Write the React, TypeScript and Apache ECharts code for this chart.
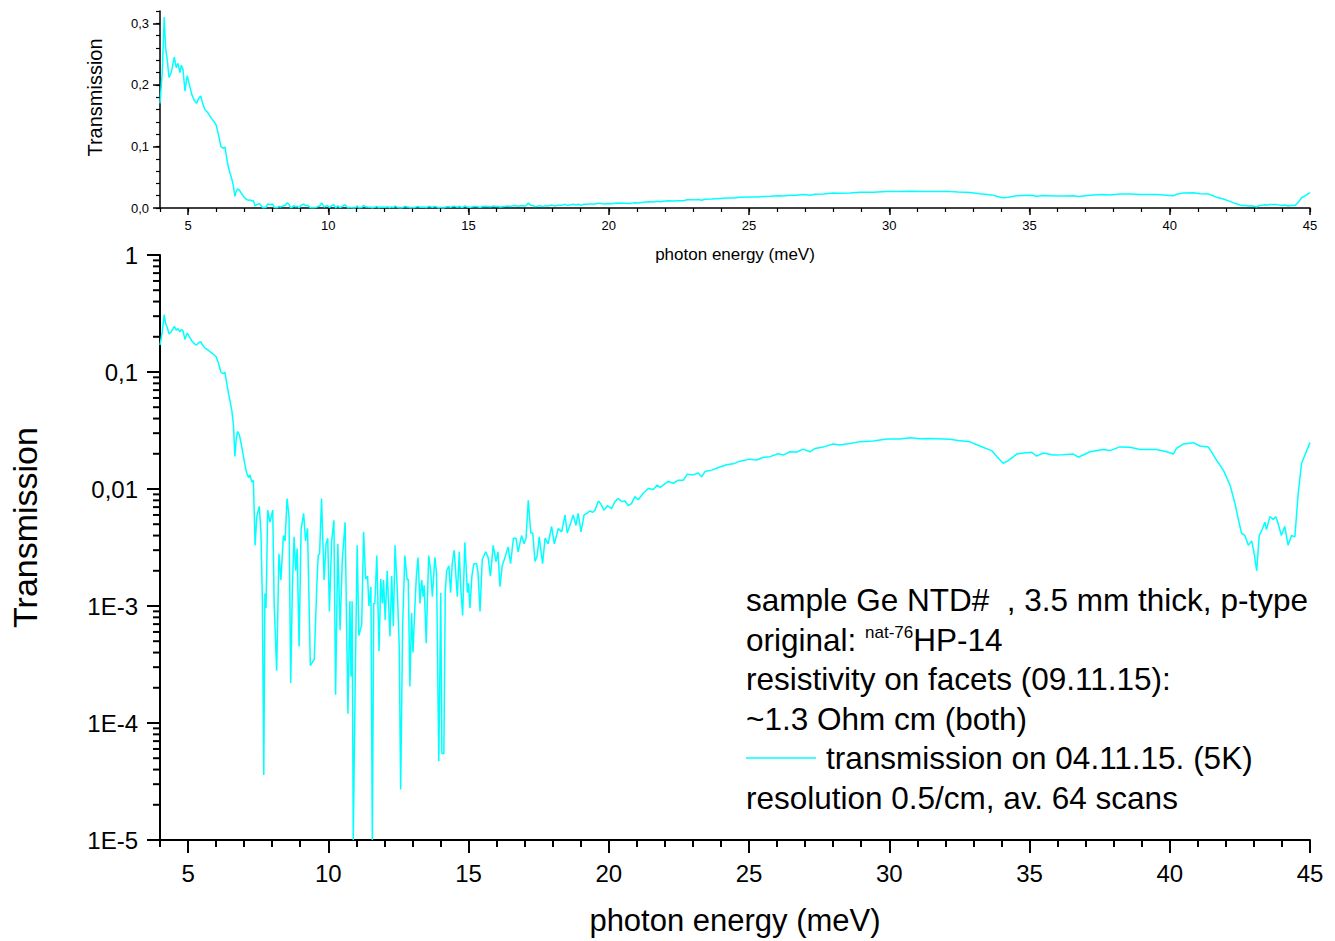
import React, { useEffect, useRef } from "react";
import * as echarts from "echarts";

// photon energy (meV), transmission
const spectrum: [number, number][] = [
  [4.0, 0.17], [4.08, 0.22], [4.15, 0.31], [4.2, 0.26], [4.26, 0.24], [4.32, 0.212], [4.4, 0.22], [4.51, 0.245],
  [4.58, 0.228], [4.64, 0.235], [4.71, 0.22], [4.76, 0.232], [4.82, 0.225], [4.89, 0.19], [4.97, 0.215], [5.05, 0.2],
  [5.13, 0.185], [5.22, 0.175], [5.3, 0.17], [5.38, 0.178], [5.45, 0.182], [5.52, 0.17], [5.6, 0.16], [5.7, 0.155],
  [5.8, 0.148], [5.9, 0.142], [6.0, 0.135], [6.08, 0.12], [6.17, 0.1], [6.25, 0.097], [6.32, 0.099], [6.38, 0.08],
  [6.44, 0.066], [6.5, 0.056], [6.56, 0.047], [6.62, 0.035], [6.67, 0.019], [6.72, 0.027], [6.77, 0.031], [6.83, 0.029],
  [6.9, 0.024], [6.96, 0.02], [7.03, 0.016], [7.1, 0.0135], [7.16, 0.0125], [7.21, 0.0132], [7.27, 0.0115], [7.33, 0.0118],
  [7.39, 0.0033], [7.45, 0.0058], [7.54, 0.0071], [7.6, 0.0042], [7.65, 0.00112], [7.7, 3.6e-5], [7.74, 0.00128],
  [7.78, 0.00096], [7.84, 0.0066], [7.92, 0.0052], [8.02, 0.0066], [8.07, 0.00105], [8.16, 0.00028], [8.24, 0.0028],
  [8.31, 0.00167], [8.4, 0.004], [8.46, 0.0036], [8.53, 0.0083], [8.6, 0.0058], [8.66, 0.00022], [8.72, 0.00146],
  [8.78, 0.0039], [8.84, 0.002], [8.89, 0.0031], [8.96, 0.00045], [9.03, 0.0045], [9.12, 0.0062], [9.19, 0.0036],
  [9.26, 0.0046], [9.36, 0.00031], [9.5, 0.00035], [9.59, 0.00146], [9.64, 0.0027], [9.69, 0.0028], [9.76, 0.0083],
  [9.85, 0.00167], [9.92, 0.0034], [9.98, 0.0038], [10.04, 0.0009], [10.12, 0.0036], [10.2, 0.0054], [10.26, 0.000174],
  [10.34, 0.0034], [10.42, 0.00062], [10.5, 0.0025], [10.6, 0.0052], [10.7, 0.00012], [10.77, 0.0011], [10.81, 0.00025],
  [10.85, 0.0011], [10.89, 1e-5], [10.96, 0.00023], [11.03, 0.0033], [11.09, 0.00056], [11.19, 0.00069], [11.26, 0.0043],
  [11.33, 0.0017], [11.4, 0.0018], [11.45, 0.001], [11.52, 0.00146], [11.57, 1e-5], [11.62, 0.00105], [11.66, 0.00105],
  [11.73, 0.0027], [11.81, 0.00041], [11.87, 0.0017], [11.93, 0.00105], [11.97, 0.00167], [12.03, 0.00076], [12.1, 0.002],
  [12.2, 0.00055], [12.26, 0.0018], [12.32, 0.00067], [12.38, 0.0033], [12.46, 0.00137], [12.53, 0.00045], [12.58, 2.7e-5],
  [12.65, 0.00067], [12.73, 0.0027], [12.81, 0.00167], [12.85, 0.0017], [12.91, 0.000205], [12.97, 0.00087], [13.02, 0.0004],
  [13.08, 0.0009], [13.14, 0.0018], [13.2, 0.0026], [13.27, 0.00105], [13.33, 0.00167], [13.38, 0.0012], [13.42, 0.0015],
  [13.49, 0.00048], [13.58, 0.0027], [13.65, 0.002], [13.71, 0.0012], [13.8, 0.0026], [13.86, 0.0019], [13.94, 4.7e-5],
  [14.01, 0.0013], [14.05, 5.5e-5], [14.12, 5.5e-5], [14.17, 0.0013], [14.22, 0.002], [14.3, 0.0022], [14.36, 0.0013],
  [14.42, 0.0023], [14.49, 0.003], [14.6, 0.0012], [14.67, 0.0029], [14.72, 0.00146], [14.79, 0.00083], [14.87, 0.0035],
  [14.96, 0.0013], [15.0, 0.00156], [15.05, 0.00096], [15.12, 0.0018], [15.19, 0.0023], [15.29, 0.0023], [15.34, 0.0019],
  [15.41, 0.0009], [15.49, 0.0025], [15.61, 0.0029], [15.7, 0.0026], [15.78, 0.0018], [15.88, 0.0033], [15.98, 0.0024],
  [16.05, 0.0029], [16.12, 0.00146], [16.2, 0.0022], [16.32, 0.0027], [16.41, 0.0032], [16.5, 0.0023], [16.6, 0.0038],
  [16.69, 0.0038], [16.77, 0.0029], [16.89, 0.004], [16.98, 0.0034], [17.05, 0.0038], [17.13, 0.008], [17.22, 0.0042],
  [17.29, 0.0042], [17.37, 0.0024], [17.45, 0.0027], [17.52, 0.0039], [17.64, 0.0023], [17.73, 0.0038], [17.84, 0.0034],
  [17.96, 0.0048], [18.06, 0.0034], [18.2, 0.0046], [18.32, 0.0043], [18.44, 0.006], [18.52, 0.0042], [18.64, 0.0051],
  [18.73, 0.006], [18.83, 0.0049], [18.91, 0.0062], [19.01, 0.0043], [19.12, 0.006], [19.22, 0.0062], [19.33, 0.0065],
  [19.42, 0.0063], [19.51, 0.0066], [19.63, 0.0079], [19.71, 0.0075], [19.83, 0.0066], [19.95, 0.0072], [20.1, 0.0068],
  [20.22, 0.0078], [20.34, 0.0083], [20.46, 0.0078], [20.58, 0.0079], [20.69, 0.0072], [20.81, 0.0075], [20.93, 0.0086],
  [21.05, 0.0081], [21.23, 0.0092], [21.41, 0.0101], [21.59, 0.0099], [21.73, 0.0108], [21.83, 0.0103], [21.94, 0.0108],
  [22.12, 0.0116], [22.3, 0.0112], [22.48, 0.0119], [22.66, 0.0119], [22.8, 0.0134], [23.01, 0.0132], [23.19, 0.0137],
  [23.31, 0.0127], [23.43, 0.0141], [23.67, 0.0145], [23.96, 0.0154], [24.2, 0.0161], [24.44, 0.0164], [24.68, 0.0173],
  [25.03, 0.018], [25.27, 0.0177], [25.51, 0.0187], [25.75, 0.0189], [26.04, 0.02], [26.22, 0.0195], [26.46, 0.0208],
  [26.7, 0.0207], [26.93, 0.0219], [27.17, 0.0208], [27.35, 0.0222], [27.65, 0.0229], [28.0, 0.0242], [28.24, 0.0238],
  [28.6, 0.0245], [28.96, 0.0254], [29.43, 0.0257], [29.91, 0.0267], [30.38, 0.0267], [30.74, 0.0274], [31.09, 0.0269],
  [31.45, 0.027], [32.16, 0.0266], [32.46, 0.026], [32.88, 0.0253], [33.23, 0.0233], [33.65, 0.0213], [33.89, 0.0183],
  [34.06, 0.0166], [34.24, 0.0175], [34.54, 0.0199], [34.78, 0.0203], [35.08, 0.0206], [35.25, 0.0191], [35.49, 0.0203],
  [35.85, 0.0195], [36.2, 0.0196], [36.56, 0.0199], [36.74, 0.0187], [37.16, 0.0208], [37.63, 0.0218], [37.87, 0.0213],
  [38.22, 0.0229], [38.58, 0.0227], [38.94, 0.0218], [39.53, 0.0218], [39.89, 0.0208], [40.13, 0.0199], [40.24, 0.0222],
  [40.48, 0.0242], [40.84, 0.0249], [41.08, 0.0233], [41.37, 0.0229], [41.49, 0.0208], [41.67, 0.0176], [41.91, 0.0145],
  [42.15, 0.0108], [42.32, 0.0076], [42.5, 0.0048], [42.56, 0.0042], [42.68, 0.004], [42.8, 0.0033], [42.92, 0.0036],
  [43.0, 0.0029], [43.1, 0.002], [43.19, 0.004], [43.31, 0.0046], [43.39, 0.0052], [43.45, 0.0045], [43.57, 0.0058],
  [43.69, 0.0055], [43.78, 0.0058], [43.86, 0.0051], [43.98, 0.004], [44.1, 0.0048], [44.22, 0.0033], [44.34, 0.004],
  [44.46, 0.0039], [44.58, 0.0092], [44.7, 0.0166], [44.82, 0.0195], [45.0, 0.0249],
];

const seriesName = "transmission on 04.11.15. (5K)";
const xMajorTicks = [5, 10, 15, 20, 25, 30, 35, 40, 45];
const topYMajorTicks = [0, 0.1, 0.2, 0.3];
const logDecades = [1e-5, 1e-4, 1e-3, 1e-2, 1e-1];
const logMultipliers = [2, 3, 4, 5, 6, 7, 8, 9];
const logMinorTicks = logDecades.flatMap((d) => logMultipliers.map((m) => m * d));

const noteLines = [
  "sample Ge NTD#  , 3.5 mm thick, p-type",
  "original: {sup|nat-76}HP-14",
  "resistivity on facets (09.11.15):",
  "~1.3 Ohm cm (both)",
  "",
  "resolution 0.5/cm, av. 64 scans",
];

const FONT = '"Liberation Sans", Arial, Helvetica, sans-serif';
const CYAN = "#00FFFF";

function logLabel(v: number): string {
  const e = Math.round(Math.log10(v));
  if (e === 0) return "1";
  if (e === -1) return "0,1";
  if (e === -2) return "0,01";
  return "1E" + e;
}

export default function App() {
  const ref = useRef<HTMLDivElement>(null);

  useEffect(() => {
    if (!ref.current) return;
    const chart = echarts.init(ref.current, null, { renderer: "svg" });

    const black = { color: "#000" };
    const option: any = {
      animation: false,
      backgroundColor: "#fff",
      textStyle: { fontFamily: FONT },
      grid: [
        { left: 160, right: 25, top: 11, height: 197 },
        { left: 160, right: 25, top: 255, bottom: 101 },
      ],
      legend: {
        data: [{ name: seriesName, icon: "rect" }],
        selectedMode: false,
        left: 746,
        top: 742,
        padding: 0,
        itemWidth: 70,
        itemHeight: 1.5,
        textStyle: { fontSize: 31.5, color: "#000", fontFamily: FONT, padding: [0, 0, 0, 5] },
      },
      xAxis: [
        {
          gridIndex: 0, type: "value", min: 4, max: 45, position: "bottom",
          axisLine: { show: true, onZero: false, lineStyle: { ...black, width: 1.5 } },
          axisTick: { show: true, inside: false, length: 7, customValues: xMajorTicks, lineStyle: { ...black, width: 1.5 } },
          axisLabel: { customValues: xMajorTicks, fontSize: 13, color: "#000", margin: 11, fontFamily: FONT },
          splitLine: { show: false },
          name: "photon energy (meV)", nameLocation: "middle", nameGap: 38,
          nameTextStyle: { fontSize: 17, color: "#000", fontFamily: FONT },
        },
        {
          gridIndex: 0, type: "value", min: 4, max: 45, interval: 1, position: "bottom",
          axisLine: { show: false, onZero: false },
          axisTick: { show: true, inside: false, length: 4, lineStyle: { ...black, width: 1.2 } },
          axisLabel: { show: false },
          splitLine: { show: false },
        },
        {
          gridIndex: 1, type: "value", min: 4, max: 45, position: "bottom",
          axisLine: { show: true, onZero: false, lineStyle: { ...black, width: 2 } },
          axisTick: { show: true, inside: false, length: 13, customValues: xMajorTicks, lineStyle: { ...black, width: 2 } },
          axisLabel: { customValues: xMajorTicks, fontSize: 24, color: "#000", margin: 21, fontFamily: FONT },
          splitLine: { show: false },
          name: "photon energy (meV)", nameLocation: "middle", nameGap: 65,
          nameTextStyle: { fontSize: 31, color: "#000", fontFamily: FONT },
        },
        {
          gridIndex: 1, type: "value", min: 4, max: 45, interval: 1, position: "bottom",
          axisLine: { show: false, onZero: false },
          axisTick: { show: true, inside: false, length: 7, lineStyle: { ...black, width: 2 } },
          axisLabel: { show: false },
          splitLine: { show: false },
        },
      ],
      yAxis: [
        {
          gridIndex: 0, type: "value", min: 0, max: 0.32, position: "left",
          axisLine: { show: true, onZero: false, lineStyle: { ...black, width: 1.5 } },
          axisTick: { show: true, inside: false, length: 7, customValues: topYMajorTicks, lineStyle: { ...black, width: 1.5 } },
          axisLabel: {
            customValues: topYMajorTicks, fontSize: 13, color: "#000", margin: 11, fontFamily: FONT,
            formatter: (v: number) => v.toFixed(1).replace(".", ","),
          },
          splitLine: { show: false },
          name: "Transmission", nameLocation: "middle", nameGap: 55,
          nameTextStyle: { fontSize: 20, color: "#000", fontFamily: FONT, padding: [0, 0, 0, 24] },
        },
        {
          gridIndex: 0, type: "value", min: 0, max: 0.32, interval: 0.02, position: "left",
          axisLine: { show: false, onZero: false },
          axisTick: { show: true, inside: false, length: 4, lineStyle: { ...black, width: 1.2 } },
          axisLabel: { show: false },
          splitLine: { show: false },
        },
        {
          gridIndex: 1, type: "log", logBase: 10, min: 1e-5, max: 1, position: "left",
          axisLine: { show: true, onZero: false, lineStyle: { ...black, width: 2 } },
          axisTick: { show: true, inside: false, length: 13, lineStyle: { ...black, width: 2 } },
          axisLabel: { fontSize: 24, color: "#000", margin: 22, fontFamily: FONT, formatter: logLabel },
          splitLine: { show: false },
          name: "Transmission", nameLocation: "middle", nameGap: 118,
          nameTextStyle: { fontSize: 34, color: "#000", fontFamily: FONT, padding: [0, 0, 0, 40] },
        },
      ],
      series: [
        {
          type: "line", name: seriesName, xAxisIndex: 0, yAxisIndex: 0, data: spectrum,
          symbol: "none", showSymbol: false, lineStyle: { color: CYAN, width: 1.5 }, itemStyle: { color: CYAN },
        },
        {
          type: "line", name: seriesName, xAxisIndex: 2, yAxisIndex: 2, data: spectrum,
          symbol: "none", showSymbol: false, lineStyle: { color: CYAN, width: 1.5 }, itemStyle: { color: CYAN },
        },
        {
          type: "custom", name: "log minor ticks", xAxisIndex: 2, yAxisIndex: 2, silent: true, clip: false,
          data: logMinorTicks.map((v) => [4, v]),
          renderItem: (_p: any, api: any) => {
            const pt = api.coord([api.value(0), api.value(1)]);
            return {
              type: "line",
              shape: { x1: pt[0] - 7, y1: pt[1], x2: pt[0], y2: pt[1] },
              style: { stroke: "#000", lineWidth: 2 },
            };
          },
        },
      ],
      graphic: noteLines
        .map((t, i) =>
          t
            ? {
                type: "text",
                x: 746,
                y: 600 + i * 39.6,
                style: {
                  text: t,
                  fontSize: 31.5,
                  fontFamily: FONT,
                  fill: "#000",
                  verticalAlign: "middle",
                  rich: { sup: { fontSize: 17, verticalAlign: "top", fontFamily: FONT, fill: "#000" } },
                },
              }
            : null
        )
        .filter(Boolean),
    };

    chart.setOption(option);
    return () => chart.dispose();
  }, []);

  return (
    <div
      ref={ref}
      style={{ position: "fixed", left: 0, top: 0, width: 1335, height: 941, background: "#fff" }}
    />
  );
}
